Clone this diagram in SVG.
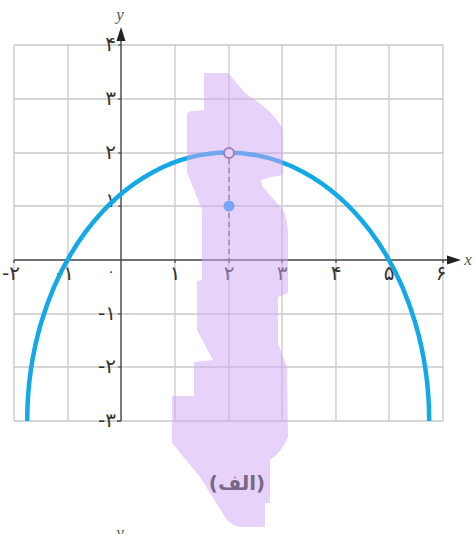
<svg xmlns="http://www.w3.org/2000/svg" width="474" height="534" viewBox="0 0 474 534">
<defs>
<style>
.grid{stroke:#c9c9c9;stroke-width:1.3;fill:none}
.axis{stroke:#444;stroke-width:1.4;fill:none}
.tick{stroke:#444;stroke-width:1.2}
.num{font-family:"DejaVu Sans",sans-serif;font-size:20px;fill:#333}
.var{font-family:"Liberation Serif",serif;font-style:italic;font-size:17px;fill:#555}
</style>
</defs>
<rect width="474" height="534" fill="#fff"/>
<g id="grid" class="grid">
<path d="M14,45V421M68,45V421M175,45V421M229,45V421M282,45V421M336,45V421M389,45V421M443,45V421"/>
<path d="M14,45H443M14,99H443M14,153H443M14,206H443M14,314H443M14,367H443M14,421H443"/>
</g>
<g id="axes">
<path class="axis" d="M14,260H450M121,421V38M117,421H121"/>
<path d="M461,260L447,255.5V264.5Z" fill="#222"/>
<path d="M121,27L116.5,41H125.5Z" fill="#222"/>
<path class="tick" d="M118,45H121M118,99H121M118,153H121M118,206H121M118,314H121M118,367H121M14,260V263M68,260V263M175,260V263M229,260V263M282,260V263M336,260V263M389,260V263M443,260V263"/>
<text class="var" x="120" y="20" text-anchor="middle">y</text>
<text class="var" x="468" y="265" text-anchor="middle">x</text>
<text class="var" x="120" y="538" text-anchor="middle">y</text>
</g>
<g id="labels" class="num">
<text x="116" y="51" text-anchor="end">۴</text>
<text x="116" y="105" text-anchor="end">۳</text>
<text x="116" y="159" text-anchor="end">۲</text>
<text x="116" y="207" text-anchor="end">۱</text>
<text x="116" y="320" text-anchor="end">-۱</text>
<text x="116" y="373" text-anchor="end">-۲</text>
<text x="116" y="427" text-anchor="end">-۳</text>
<text x="20" y="280" text-anchor="end">-۲</text>
<text x="74" y="280" text-anchor="end">-۱</text>
<text x="111" y="276" text-anchor="middle" font-size="14">۰</text>
<text x="175" y="280" text-anchor="middle">۱</text>
<text x="229" y="280" text-anchor="middle">۲</text>
<text x="282" y="280" text-anchor="middle">۳</text>
<text x="336" y="280" text-anchor="middle">۴</text>
<text x="389" y="280" text-anchor="middle">۵</text>
<text x="441" y="280" text-anchor="middle">۶</text>
</g>
<g id="curve">
<path d="M27.2,421A201,268.5 0 0 1 429.2,421" fill="none" stroke="#12a9e6" stroke-width="4.5"/>
<path d="M229,159V260" stroke="#555" stroke-width="1.3" stroke-dasharray="5 4"/>
<circle cx="229" cy="153" r="5" fill="#fff" stroke="#6b5a70" stroke-width="2"/>
<circle cx="229" cy="206" r="5.5" fill="#1ea6f2"/>
</g>
<g id="highlight">
<path d="M204,73L228,73Q234,80 245,93L262,105Q278,118 283,130L283,175L272,177L261,180L262,186L283,210Q288,220 288,235L288,293L278,297L278,343L287,367L288,437Q282,452 270,460L270,503L265,503L265,527L240,527Q228,525 222,512L200,477L172,443L172,396L194,396L194,362L213,360L197,330L197,281L202,280L202,210L187,172L187,114Q188,111 193,111L204,110Z" fill="#cfa6f5" fill-opacity="0.5"/>
</g>
<g id="caption">
<text x="237" y="490" text-anchor="middle" font-family="DejaVu Sans,sans-serif" font-size="20" font-weight="bold" fill="#6b5878" fill-opacity="0.9">(الف)</text>
</g>
</svg>
